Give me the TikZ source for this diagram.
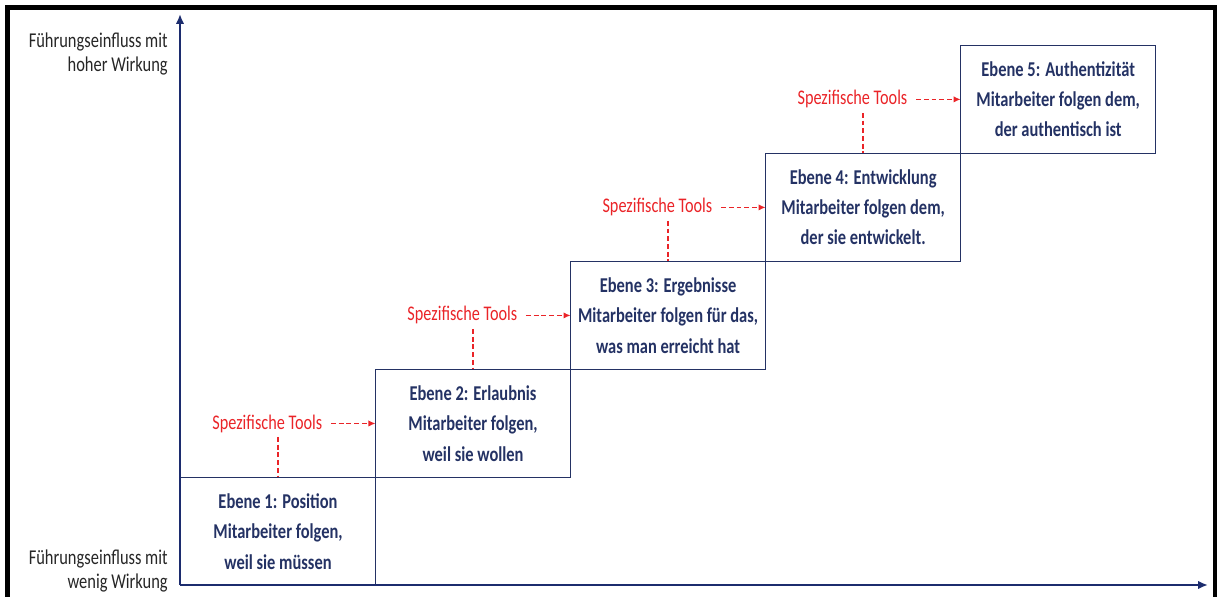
\documentclass[tikz,border=0pt]{standalone}
\usepackage{fontspec}
\setmainfont[FakeStretch=0.78]{Carlito}
\usetikzlibrary{arrows.meta, positioning, calc}
\definecolor{levelblue}{RGB}{36, 50, 100}
\definecolor{axisblue}{RGB}{28, 44, 110}
\definecolor{toolred}{RGB}{234, 36, 40}
\tikzstyle{level} = [rectangle, minimum width=4.875cm, minimum height=2.7cm, align=center, draw=levelblue, line width=0.9pt, text=levelblue, font=\bfseries\fontsize{15}{21.5}\selectfont, outer sep=0pt, inner sep=0pt]
\tikzstyle{tool} = [text=toolred, font=\fontsize{14.8}{16}\selectfont, inner sep=3pt]
\tikzstyle{toolarrow} = [toolred, line width=1.1pt, dash pattern=on 3.5pt off 2pt, shorten <=3pt, -{Latex[length=5pt, width=4.5pt]}]
\tikzstyle{toolline} = [toolred, line width=1.1pt, dash pattern=on 3.5pt off 2pt]
\tikzstyle{axis} = [axisblue, line width=1.4pt, -{Latex[length=7pt, width=6pt]}]
\tikzstyle{axislabel} = [align=right, anchor=east, inner sep=0pt, text=black!85, font=\fontsize{15}{17.5}\selectfont]

\begin{document}
\begin{tikzpicture}[x=0.025cm, y=-0.025cm]
    \useasboundingbox (0,0) rectangle (1219,597);
    % Frame
    \draw[line width=3.2pt] (7.5,597) -- (7.5,7.5) -- (1215,7.5) -- (1215,597);

    % Levels
    \node[level] (e1) at (278,531.5) {Ebene 1: Position\\Mitarbeiter folgen,\\weil sie müssen};
    \node[level, above right=0pt of e1] (e2) {Ebene 2: Erlaubnis\\Mitarbeiter folgen,\\weil sie wollen};
    \node[level, above right=0pt of e2] (e3) {Ebene 3: Ergebnisse\\Mitarbeiter folgen für das,\\was man erreicht hat};
    \node[level, above right=0pt of e3] (e4) {Ebene 4: Entwicklung\\Mitarbeiter folgen dem,\\der sie entwickelt.};
    \node[level, above right=0pt of e4] (e5) {Ebene 5: Authentizität\\Mitarbeiter folgen dem,\\der authentisch ist};

    % Tools
    \node[tool, left=1.22cm of e2] (t1) {Spezifische Tools};
    \node[tool, left=1.22cm of e3] (t2) {Spezifische Tools};
    \node[tool, left=1.22cm of e4] (t3) {Spezifische Tools};
    \node[tool, left=1.22cm of e5] (t4) {Spezifische Tools};

    % Axes
    \coordinate (origin) at (180,585);
    \coordinate (ytop) at (180,14);
    \coordinate (xend) at (1208,585);
    \draw[axis] (origin) -- (ytop);
    \draw[axis] (origin) -- (xend);

    % Axis labels
    \node[axislabel] (high) at (168,54) {Führungseinfluss mit\\hoher Wirkung};
    \node[axislabel] (low) at (168,571) {Führungseinfluss mit\\wenig Wirkung};

    % Arrows
    \draw[toolarrow] (t1) -- (e2);
    \draw[toolarrow] (t2) -- (e3);
    \draw[toolarrow] (t3) -- (e4);
    \draw[toolarrow] (t4) -- (e5);
    \draw[toolline] (t1.south -| e1.north) -- (e1.north);
    \draw[toolline] (t2.south -| e2.north) -- (e2.north);
    \draw[toolline] (t3.south -| e3.north) -- (e3.north);
    \draw[toolline] (t4.south -| e4.north) -- (e4.north);
\end{tikzpicture}
\end{document}
